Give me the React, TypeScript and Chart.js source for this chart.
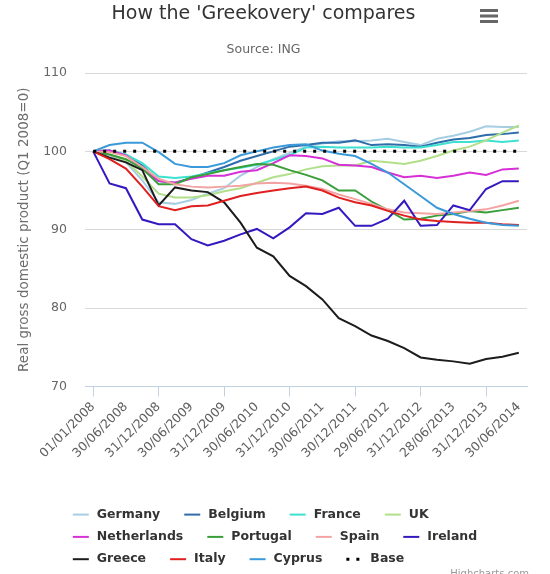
import React, { useEffect, useRef } from "react";
import { Chart, registerables } from "chart.js";

Chart.register(...registerables);

const FONT = "'DejaVu Sans', 'Lucida Grande', sans-serif";

const quarterDates = [
  "01/01/2008", "31/03/2008", "30/06/2008", "30/09/2008", "31/12/2008",
  "31/03/2009", "30/06/2009", "30/09/2009", "31/12/2009",
  "31/03/2010", "30/06/2010", "30/09/2010", "31/12/2010",
  "31/03/2011", "30/06/2011", "30/09/2011", "30/12/2011",
  "30/03/2012", "29/06/2012", "28/09/2012", "31/12/2012",
  "28/03/2013", "28/06/2013", "30/09/2013", "31/12/2013",
  "31/03/2014", "30/06/2014",
];

const germany = [100, 99.5, 98.6, 96.3, 93.5, 93.3, 93.8, 94.6, 95.3, 96.9, 98.0, 99.0, 99.8, 100.6, 101.0, 101.3, 101.3, 101.4, 101.6, 101.2, 100.8, 101.6, 102.0, 102.5, 103.2, 103.1, 103.1];
const belgium = [100, 100.1, 99.5, 98.2, 96.2, 96.0, 96.6, 97.3, 98.0, 98.8, 99.4, 100.0, 100.6, 100.8, 101.1, 101.1, 101.4, 100.8, 100.9, 100.8, 100.6, 101.1, 101.5, 101.7, 102.1, 102.2, 102.4];
const france = [100, 100.1, 99.6, 98.5, 96.8, 96.6, 96.8, 97.2, 97.6, 97.9, 98.3, 98.9, 99.5, 100.5, 100.6, 100.5, 100.5, 100.5, 100.6, 100.5, 100.5, 100.8, 101.2, 101.2, 101.4, 101.2, 101.4];
const uk = [100, 99.6, 98.8, 96.8, 94.6, 94.1, 94.1, 94.4, 94.9, 95.3, 96.0, 96.7, 97.1, 97.7, 98.1, 98.2, 98.2, 98.8, 98.6, 98.4, 98.8, 99.4, 100.1, 100.6, 101.4, 102.4, 103.3];
const netherlands = [100, 100.1, 99.5, 97.8, 96.2, 96.0, 96.5, 96.9, 96.9, 97.4, 97.6, 98.5, 99.5, 99.4, 99.1, 98.3, 98.2, 98.0, 97.3, 96.7, 96.9, 96.6, 96.9, 97.3, 97.0, 97.7, 97.8];
const portugal = [100, 99.6, 99.0, 97.8, 95.8, 95.8, 96.7, 97.1, 97.6, 98.0, 98.4, 98.3, 97.6, 97.0, 96.3, 95.0, 95.0, 93.6, 92.5, 91.3, 91.4, 91.8, 92.0, 92.4, 92.2, 92.5, 92.8];
const spain = [100, 99.9, 99.4, 98.0, 96.5, 95.8, 95.5, 95.4, 95.5, 95.6, 95.9, 96.0, 95.9, 95.6, 95.2, 94.5, 93.9, 93.3, 92.6, 92.2, 92.1, 92.0, 92.2, 92.4, 92.6, 93.1, 93.7];
const ireland = [100, 95.9, 95.3, 91.3, 90.7, 90.7, 88.8, 88.0, 88.6, 89.4, 90.1, 88.9, 90.3, 92.1, 92.0, 92.8, 90.5, 90.5, 91.4, 93.7, 90.5, 90.6, 93.1, 92.5, 95.2, 96.2, 96.2];
const greece = [100, 99.2, 98.6, 97.6, 93.1, 95.4, 95.0, 94.8, 93.5, 90.9, 87.7, 86.6, 84.1, 82.8, 81.1, 78.7, 77.7, 76.5, 75.8, 74.9, 73.7, 73.4, 73.2, 72.9, 73.5, 73.8, 74.3];
const italy = [100, 99.0, 97.8, 95.5, 93.0, 92.5, 93.0, 93.1, 93.7, 94.3, 94.7, 95.0, 95.3, 95.5, 95.0, 94.1, 93.5, 93.1, 92.4, 91.8, 91.3, 91.1, 91.0, 90.9, 90.9, 90.7, 90.6];
const cyprus = [100, 100.8, 101.1, 101.1, 99.9, 98.4, 98.0, 98.0, 98.5, 99.5, 100.0, 100.5, 100.8, 100.9, 100.1, 99.7, 99.4, 98.4, 97.3, 95.8, 94.3, 92.8, 92.0, 91.4, 90.9, 90.6, 90.5];
const base = [100, 100, 100, 100, 100, 100, 100, 100, 100, 100, 100, 100, 100, 100, 100, 100, 100, 100, 100, 100, 100, 100, 100, 100, 100, 100, 100];

const seriesNames = ["Germany", "Belgium", "France", "UK", "Netherlands", "Portugal", "Spain", "Ireland", "Greece", "Italy", "Cyprus", "Base"];
const seriesValues = [germany, belgium, france, uk, netherlands, portugal, spain, ireland, greece, italy, cyprus, base];
const seriesColors = ["#a6cee3", "#2e6daa", "#3ee0d0", "#b2df8a", "#d631d6", "#3a9e3a", "#f4a3a3", "#3418c0", "#1c1c1c", "#e02020", "#3a9ad9", "#000000"];

const hcExtras = {
  id: "hcExtras",
  afterDraw(chart: any) {
    const ctx = chart.ctx as CanvasRenderingContext2D;
    ctx.save();
    // context menu icon
    ctx.fillStyle = "#666666";
    [9, 14.5, 20].forEach((y) => ctx.fillRect(480, y, 18, 3));

    // legend
    ctx.font = `bold 12.5px ${FONT}`;
    const symW = 16, symGap = 8, itemGap = 24, rowMax = 440, rowH = 22.3, firstRowY = 514.6;
    const items = chart.data.datasets.map((ds: any) => ({ ds, w: symW + symGap + ctx.measureText(ds.label).width }));
    const rows: { items: any[]; w: number }[] = [];
    let cur: any[] = [];
    let curW = 0;
    items.forEach((it: any) => {
      const add = (cur.length ? itemGap : 0) + it.w;
      if (cur.length && curW + add > rowMax) {
        rows.push({ items: cur, w: curW });
        cur = [it];
        curW = it.w;
      } else {
        cur.push(it);
        curW += add;
      }
    });
    if (cur.length) rows.push({ items: cur, w: curW });
    const boxW = Math.max(...rows.map((r) => r.w));
    const x0 = (chart.width - boxW) / 2;
    rows.forEach((r, ri) => {
      let x = x0;
      const y = firstRowY + ri * rowH;
      r.items.forEach((it: any) => {
        ctx.save();
        ctx.strokeStyle = it.ds.borderColor;
        ctx.lineWidth = it.ds.borderWidth;
        ctx.setLineDash(it.ds.borderDash || []);
        ctx.beginPath();
        ctx.moveTo(x, y);
        ctx.lineTo(x + symW, y);
        ctx.stroke();
        ctx.restore();
        ctx.fillStyle = "#333333";
        ctx.textBaseline = "middle";
        ctx.textAlign = "left";
        ctx.fillText(it.ds.label, x + symW + symGap, y);
        x += it.w + itemGap;
      });
    });

    // credits
    ctx.font = `10px ${FONT}`;
    ctx.fillStyle = "#999999";
    ctx.textAlign = "right";
    ctx.textBaseline = "alphabetic";
    ctx.fillText("Highcharts.com", 529, 577);
    ctx.restore();
  },
};

export default function App() {
  const canvasRef = useRef<HTMLCanvasElement | null>(null);

  useEffect(() => {
    if (!canvasRef.current) return;
    const datasets = seriesNames.map((name, i) => {
      const isBase = name === "Base";
      return {
        label: name,
        data: seriesValues[i],
        borderColor: seriesColors[i],
        backgroundColor: seriesColors[i],
        borderWidth: isBase ? 3 : 2,
        borderDash: isBase ? [3, 7] : [],
        pointRadius: 0,
        pointHoverRadius: 0,
        tension: 0,
        fill: false,
        order: seriesNames.length - i,
      };
    });

    const chart = new Chart(canvasRef.current, {
      type: "line",
      data: { labels: quarterDates, datasets },
      plugins: [hcExtras],
      options: {
        responsive: false,
        animation: false,
        events: [],
        layout: { padding: { left: 0, right: 23, top: 0, bottom: 110 } },
        font: { family: FONT },
        plugins: {
          legend: { display: false },
          tooltip: { enabled: false },
          title: {
            display: true,
            text: "How the 'Greekovery' compares",
            color: "#333333",
            font: { family: FONT, size: 19, weight: "normal" },
            padding: { top: 3, bottom: 10 },
          },
          subtitle: {
            display: true,
            text: "Source: ING",
            color: "#666666",
            font: { family: FONT, size: 12.5, weight: "normal" },
            padding: { top: 6.6, bottom: 15.6 },
          },
        },
        scales: {
          x: {
            type: "category",
            offset: true,
            afterFit: (scale: any) => {
              scale.paddingLeft = 0;
              scale.paddingRight = 0;
            },
            grid: {
              display: true,
              drawOnChartArea: false,
              drawTicks: true,
              tickLength: 10,
              color: (c: any) => (c.index % 2 === 0 ? "#c0d0e0" : "rgba(0,0,0,0)"),
              tickColor: (c: any) => (c.index % 2 === 0 ? "#c0d0e0" : "rgba(0,0,0,0)"),
            },
            border: { display: true, color: "#c0d0e0", width: 1 },
            ticks: {
              autoSkip: false,
              maxRotation: 45,
              minRotation: 45,
              padding: 3,
              color: "#606060",
              font: { family: FONT, size: 12.5 },
              callback: (_v: any, index: number) => (index % 2 === 0 ? quarterDates[index] : null),
            },
          },
          y: {
            min: 70,
            max: 110,
            afterFit: (scale: any) => {
              scale.width = 85;
            },
            grid: { color: "#d8d8d8", lineWidth: 1, drawTicks: false },
            border: { display: false },
            ticks: {
              stepSize: 10,
              padding: 18,
              color: "#666666",
              font: { family: FONT, size: 12.5 },
            },
            title: {
              display: true,
              text: "Real gross domestic product (Q1 2008=0)",
              color: "#6d6d6d",
              font: { family: FONT, size: 13.5, weight: "normal" },
              padding: { top: 16, bottom: 11 },
            },
          },
        },
      } as any,
    });
    return () => chart.destroy();
  }, []);

  return (
    <div style={{ position: "absolute", left: 0, top: 0, width: 550, height: 574, background: "#ffffff" }}>
      <canvas ref={canvasRef} width={550} height={574} />
    </div>
  );
}
